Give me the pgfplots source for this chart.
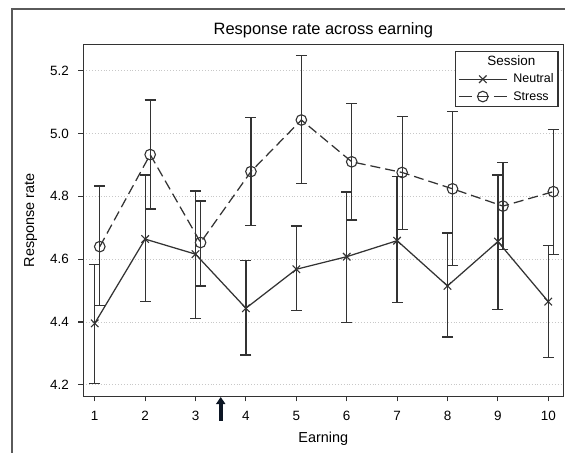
\documentclass[border=0pt]{standalone}
\usepackage{pgfplots}
\pgfplotsset{compat=1.18}
\usepackage{fontspec}
\setmainfont{Liberation Sans}
\usetikzlibrary{arrows.meta}
\definecolor{ln}{HTML}{333333}
\definecolor{fr}{HTML}{5A5A5A}
\definecolor{grd}{HTML}{C8C8C8}
\definecolor{arr}{HTML}{0C1624}
\pgfplotsset{
  lineimg/.style={legend image code/.code={\draw[mark repeat=2,mark phase=2,##1] plot coordinates {(0bp,0bp)(24bp,0bp)(48bp,0bp)};}},
  stressimg/.style={legend image code/.code={\draw[mark repeat=2,mark phase=2,##1, dash pattern=on 13bp off 5bp on 12bp off 5bp on 14bp] plot coordinates {(0bp,0bp)(24bp,0bp)(48bp,0bp)};}},
}

\pgfplotstableread{
x y ep em
1 4.396 0.188 0.191
2 4.664 0.204 0.199
3 4.616 0.201 0.204
4 4.444 0.152 0.149
5 4.568 0.138 0.132
6 4.608 0.206 0.209
7 4.659 0.204 0.198
8 4.515 0.168 0.163
9 4.656 0.212 0.215
10 4.465 0.178 0.178
}\neutral
\pgfplotstableread{
x y ep em
1.1 4.640 0.193 0.188
2.1 4.933 0.174 0.173
3.1 4.653 0.132 0.138
4.1 4.879 0.173 0.172
5.1 5.043 0.205 0.201
6.1 4.910 0.186 0.185
7.1 4.876 0.178 0.181
8.1 4.824 0.245 0.244
9.1 4.769 0.138 0.138
10.1 4.815 0.198 0.199
}\stress

\begin{document}
\begin{tikzpicture}
\useasboundingbox (0,0) rectangle (565bp,453bp);
\draw[fr, line width=1.6bp] (11.7bp,-10bp) -- (11.7bp,444bp) -- (600bp,444bp);
\begin{axis}[
  at={(83.3bp,56.5bp)}, anchor=south west,
  scale only axis, width=480bp, height=352.2bp,
  xmin=0.773, xmax=10.298, ymin=4.163, ymax=5.284,
  xtick={1,...,10}, ytick={4.2,4.4,4.6,4.8,5.0,5.2},
  yticklabel style={/pgf/number format/.cd, fixed, fixed zerofill, precision=1, /tikz/.cd, xshift=-6bp},
  xticklabel style={yshift=-6bp},
  /pgf/number format/assume math mode=true,
  tick pos=left, tick align=outside, major tick length=5bp,
  tick style={ln, line width=1.1bp},
  axis line style={ln, line width=1.4bp},
  ymajorgrids, major grid style={grd, line width=0.9bp, dotted},
  ticklabel style={font=\fontsize{13.5}{15}\selectfont, text=black},
  title={Response rate across earning},
  every axis title/.style={at={(0.5,1)}, anchor=base, yshift=9.5bp, font=\fontsize{16.5}{19}\selectfont},
  xlabel={Earning}, ylabel={Response rate},
  label style={font=\fontsize{14.5}{17}\selectfont},
  xlabel style={at={(axis description cs:0.5,-0.1207)}, anchor=center},
  ylabel style={at={(axis description cs:-0.1098,0.5)}, anchor=center},
  clip=false,
  legend style={at={(1,1)}, anchor=north east, xshift=-4.6bp, yshift=-6.3bp,
    draw=ln, line width=1.3bp, font=\fontsize{12.5}{14}\selectfont,
    inner sep=2.5bp, row sep=3bp, fill=white,
    /tikz/every odd column/.append style={column sep=4bp}},
  legend cell align=left,
  lineimg,
]
\addlegendimage{empty legend}
\addlegendentry{\hspace*{-26bp}\fontsize{13.5}{15}\selectfont Session}
\addplot[ln, line width=1.25bp, mark=x, mark size=5.3bp, mark options={solid, line width=1.1bp},
  error bars/.cd, y dir=both, y explicit,
  error bar style={ln, solid, line width=1.25bp},
  error mark options={ln, solid, line width=1.25bp, mark size=5.5bp, rotate=90}]
  table[x=x, y=y, y error plus=ep, y error minus=em] {\neutral};
\addlegendentry{Neutral}
\addplot[ln, line width=1.25bp, dash pattern=on 10bp off 5bp, mark=o, mark size=5.3bp, mark options={solid, line width=1.1bp},
  stressimg,
  error bars/.cd, y dir=both, y explicit,
  error bar style={ln, solid, line width=1.25bp},
  error mark options={ln, solid, line width=1.25bp, mark size=5.5bp, rotate=90}]
  table[x=x, y=y, y error plus=ep, y error minus=em] {\stress};
\addlegendentry{Stress}
\draw[arr, line width=4bp, -{Triangle[width=9bp,length=7bp]}] ([yshift=-24bp]axis cs:3.5,4.163) -- ([yshift=-0.5bp]axis cs:3.5,4.163);
\end{axis}
\end{tikzpicture}
\end{document}
